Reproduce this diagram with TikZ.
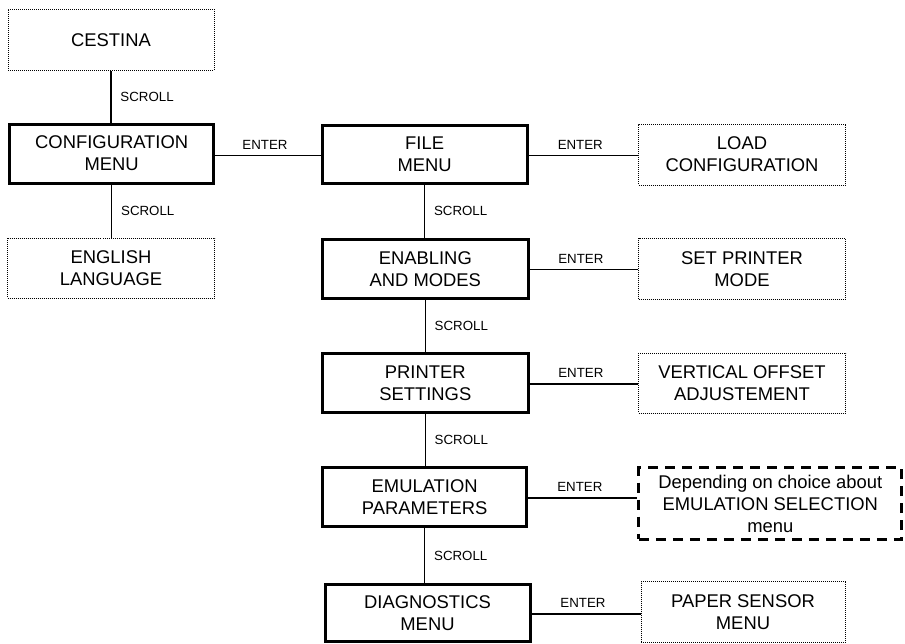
\documentclass[tikz,border=0pt]{standalone}
\usepackage{fontspec}
\setmainfont{Liberation Sans}
\begin{document}
\begin{tikzpicture}[x=1pt,y=-1pt,
  boxtext/.style={align=center,inner sep=0pt,font=\fontsize{18.4}{22}\selectfont},
  menubox/.style={boxtext,draw,line width=3pt},
  itembox/.style={boxtext,draw,line width=1pt,dash pattern=on 1pt off 1pt},
  notebox/.style={boxtext,draw,line width=3pt,dash pattern=on 10pt off 7pt},
  link/.style={line width=1.2pt},
  keylbl/.style={font=\fontsize{13.3}{15}\selectfont},
  scrolllbl/.style={keylbl,midway,right,xshift=5.5pt},
  enterlbl/.style={keylbl,midway,above,yshift=2.5pt,xshift=-3pt}]
\useasboundingbox (0,0) rectangle (905,643);

% left column: language selection
\node[itembox,minimum width=206pt,minimum height=61pt] (cestina) at (111,39.7) {CESTINA};
\node[menubox,minimum width=204.5pt,minimum height=59pt] (config) at (111.7,153.5) {CONFIGURATION\\MENU};
\node[itembox,minimum width=207pt,minimum height=60pt] (english) at (111,268.3) {ENGLISH\\LANGUAGE};

% middle column: configuration menus
\node[menubox,minimum width=205pt,minimum height=58pt] (file) at (424.6,154.5) {FILE\\MENU};
\node[menubox,minimum width=206pt,minimum height=59.3pt] (enable) at (425.3,268.7) {ENABLING\\AND MODES};
\node[menubox,minimum width=206pt,minimum height=58.7pt] (printer) at (425.3,383.3) {PRINTER\\SETTINGS};
\node[menubox,minimum width=204pt,minimum height=59pt] (emul) at (424.7,497.2) {EMULATION\\PARAMETERS};
\node[menubox,minimum width=205pt,minimum height=57.4pt] (diag) at (427.5,613) {DIAGNOSTICS\\MENU};

% right column: submenus
\node[itembox,minimum width=207pt,minimum height=61pt] (load) at (742,154.5) {LOAD\\CONFIGURATION};
\node[itembox,minimum width=207pt,minimum height=60.7pt] (setmode) at (742,268.7) {SET PRINTER\\MODE};
\node[itembox,minimum width=207pt,minimum height=60pt] (vertical) at (742,383.3) {VERTICAL OFFSET\\ADJUSTEMENT};
\node[notebox,minimum width=262.7pt,minimum height=71.6pt] (depend) at (770.3,503.5) {Depending on choice about\\EMULATION SELECTION\\menu};
\node[itembox,minimum width=204pt,minimum height=61pt] (paper) at (743,612.2) {PAPER SENSOR\\MENU};

% SCROLL connectors
\draw[link] (cestina.south) -- (cestina.south |- config.north) node[scrolllbl] {SCROLL};
\draw[link] (config.south) -- (config.south |- english.north) node[scrolllbl] {SCROLL};
\draw[link] (file.south) -- (file.south |- enable.north) node[scrolllbl] {SCROLL};
\draw[link] (enable.south) -- (enable.south |- printer.north) node[scrolllbl] {SCROLL};
\draw[link] (printer.south) -- (printer.south |- emul.north) node[scrolllbl] {SCROLL};
\draw[link] (emul.south) -- (emul.south |- diag.north) node[scrolllbl] {SCROLL};

% ENTER connectors
\draw[link] ([yshift=-2pt]config.east) -- ([yshift=-2pt]config.east -| file.west) node[enterlbl] {ENTER};
\draw[link] ([yshift=-1pt]file.east) -- ([yshift=-1pt]file.east -| load.west) node[enterlbl] {ENTER};
\draw[link] ([yshift=-1pt]enable.east) -- ([yshift=-1pt]enable.east -| setmode.west) node[enterlbl] {ENTER};
\draw[link] ([yshift=-0.7pt]printer.east) -- ([yshift=-0.7pt]printer.east -| vertical.west) node[enterlbl] {ENTER};
\draw[link] ([yshift=-0.8pt]emul.east) -- ([yshift=-0.8pt]emul.east -| depend.west) node[enterlbl] {ENTER};
\draw[link] ([yshift=-1pt]diag.east) -- ([yshift=-1pt]diag.east -| paper.west) node[enterlbl] {ENTER};
\end{tikzpicture}
\end{document}
